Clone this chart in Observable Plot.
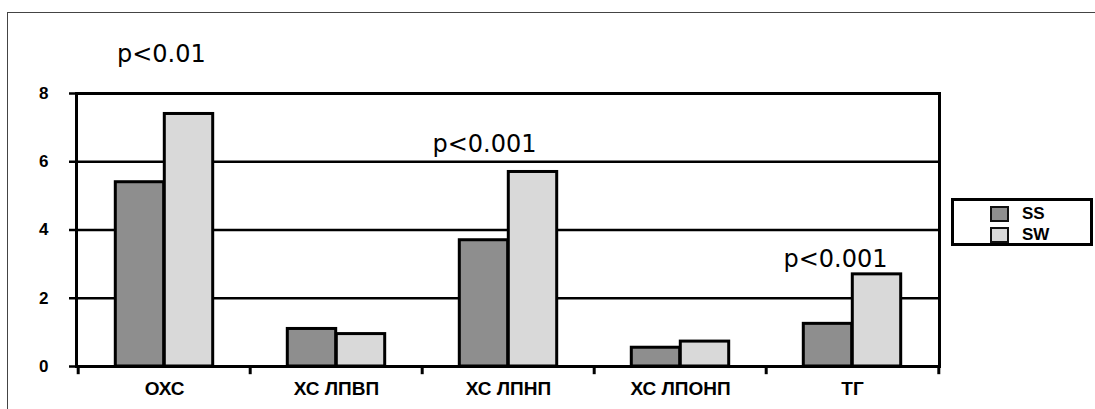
<!DOCTYPE html>
<html><head><meta charset="utf-8">
<script src="https://cdn.jsdelivr.net/npm/d3@7"></script>
<script src="https://cdn.jsdelivr.net/npm/@observablehq/plot@0.6"></script>
<style>
body{margin:0;background:#fff;}
#wrap{position:relative;width:1095px;height:409px;overflow:hidden;background:#fff;}
#frame{position:absolute;left:7px;top:12px;width:1300px;height:600px;border:1.5px solid #444;box-sizing:border-box;}
#chart{position:absolute;left:0;top:0;}
#legend{position:absolute;left:951px;top:198px;width:142px;height:48px;border:3px solid #000;box-sizing:border-box;background:#fff;font:bold 17px "Liberation Sans",Arial,sans-serif;padding-top:2px;}
.item{display:flex;align-items:center;height:21px;padding-left:36px;}
.sw{width:19px;height:16px;border:2.5px solid #111;box-sizing:border-box;margin-right:13px;}
</style></head>
<body>
<div id="wrap"><div id="frame"></div><div id="chart"></div><div id="legend"></div></div>
<script>
const categories = ["ОХС", "ХС ЛПВП", "ХС ЛПНП", "ХС ЛПОНП", "ТГ"];
const series = ["SS", "SW"];
const ssValues = [5.4, 1.1, 3.7, 0.55, 1.25];
const swValues = [7.4, 0.95, 5.7, 0.73, 2.7];
const yTicks = [0, 2, 4, 6, 8];
const annotations = [
  {category: "ОХС", label: "p<0.01"},
  {category: "ХС ЛПНП", label: "p<0.001"},
  {category: "ТГ", label: "p<0.001"}
];
const colors = {SS: "#8e8e8e", SW: "#d9d9d9"};

const W = 1095, H = 409, ml = 76, mr = 156, mt = 93, mb = 43;
const step = (W - ml - mr) / categories.length;
const barW = 49;

const rows = [];
categories.forEach((c, i) => {
  rows.push({category: c, series: "SS", value: ssValues[i]});
  rows.push({category: c, series: "SW", value: swValues[i]});
});
const swOf = c => swValues[categories.indexOf(c)];
const annOffsets = {"ОХС": [-47.6, -51.6], "ХС ЛПНП": [-76, -19.6], "ТГ": [-69, -7]};

const annMarks = annotations.map(a => Plot.text([a], {
  x: "category", y: d => swOf(d.category), text: "label",
  textAnchor: "start", lineAnchor: "bottom",
  dx: annOffsets[a.category][0], dy: annOffsets[a.category][1],
  fontSize: 24, fontFamily: "DejaVu Sans", fontWeight: "normal", fill: "#000"
}));

const chart = Plot.plot({
  width: W, height: H,
  marginLeft: ml, marginRight: mr, marginTop: mt, marginBottom: mb,
  style: {fontFamily: "'Liberation Sans', Arial, sans-serif", background: "transparent", color: "#000"},
  x: {domain: categories, padding: 0, label: null},
  y: {domain: [0, 8], label: null},
  marks: [
    Plot.ruleY(yTicks, {stroke: "#000", strokeWidth: 2.5}),
    Plot.barY(rows.filter(d => d.series === "SS"), {
      x: "category", y: "value", fill: colors.SS, stroke: "#000", strokeWidth: 3,
      insetLeft: step / 2 - barW, insetRight: step / 2
    }),
    Plot.barY(rows.filter(d => d.series === "SW"), {
      x: "category", y: "value", fill: colors.SW, stroke: "#000", strokeWidth: 3,
      insetLeft: step / 2, insetRight: step / 2 - barW
    }),
    Plot.ruleX(categories, {x: d => d, y1: 0, y2: -0.24, dx: -step / 2, stroke: "#000", strokeWidth: 3}),
    Plot.ruleX(categories.slice(-1), {x: d => d, y1: 0, y2: -0.24, dx: step / 2, stroke: "#000", strokeWidth: 3}),
    Plot.frame({stroke: "#000", strokeWidth: 3}),
    Plot.axisY({ticks: yTicks, tickSize: 7, tickPadding: 21, tickFormat: d => d, fontSize: 17, fontWeight: "bold", stroke: "#000", strokeWidth: 2.5, label: null}),
    Plot.axisX({tickSize: 0, tickPadding: 15, fontSize: 19, fontWeight: "bold", label: null}),
    ...annMarks
  ]
});
document.getElementById("chart").appendChild(chart);

const leg = document.getElementById("legend");
series.forEach(s => {
  const it = document.createElement("div");
  it.className = "item";
  const sw = document.createElement("span");
  sw.className = "sw";
  sw.style.background = colors[s];
  const t = document.createElement("span");
  t.textContent = s;
  it.appendChild(sw); it.appendChild(t);
  leg.appendChild(it);
});
</script>
</body></html>
